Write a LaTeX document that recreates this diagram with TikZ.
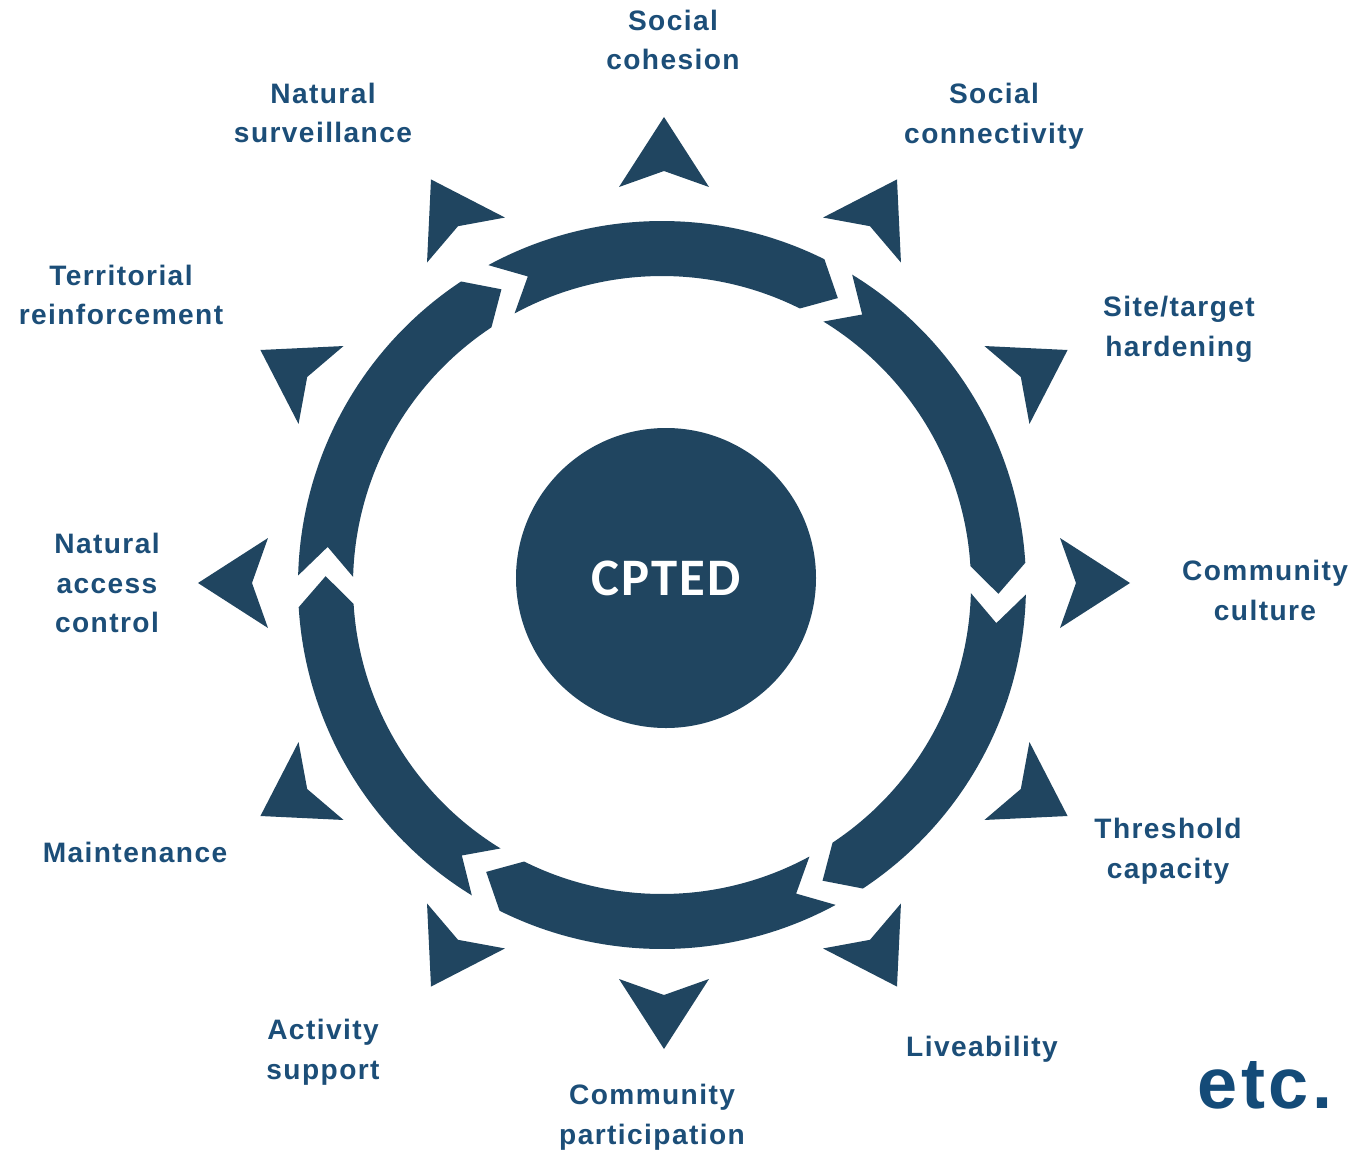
\documentclass[tikz,border=0pt]{standalone}
\usepackage{fontspec}
\newfontfamily\lblfont[LetterSpace=5]{Liberation Sans}
\newfontfamily\hubfont[LetterSpace=4]{Carlito}
\begin{document}
\begin{tikzpicture}[x=0.2mm, y=0.2mm]
    \definecolor{Ringcolor}{RGB}{32, 69, 96}
    \definecolor{Textcolor}{RGB}{28, 78, 120}
    \definecolor{Etccolor}{RGB}{20, 75, 120}
    \tikzset{lbl/.style={align=center, text=Textcolor, font=\lblfont\bfseries\fontsize{16}{22.7}\selectfont}}
    \useasboundingbox (-662,-565) rectangle (691,585);
    \def\ringout{364}
    \def\ringin{309}
    \def\ringmid{336.5}
    \def\tipradius{431}
    % ring of six curved arrows, clockwise
    \foreach \s in {118.5, 58.5, -1.5, -61.5, -121.5, 178.5} {
        \fill[Ringcolor] (\s:\ringout) arc[start angle=\s, end angle=\s-55, radius=\ringout]
            -- ({\s-60}:\ringmid) -- ({\s-55}:\ringin)
            arc[start angle=\s-55, end angle=\s, radius=\ringin]
            -- ({\s-5}:\ringmid) -- cycle;
    }
    % outward arrow heads
    \foreach \a in {0, 30, ..., 330} {
        \fill[Ringcolor, shift={(2,2)}, shift={(\a:\tipradius)}, rotate=\a] (35,0) -- (-35,45) -- (-19,0) -- (-35,-45) -- cycle;
    }
    \node[circle, fill=Ringcolor, minimum size=6cm, text=white, font=\hubfont\bfseries\fontsize{30}{32}\selectfont] (hub) at (4, 7) {CPTED};
    \node[lbl] (cohesion) at (11, 545) {Social\\cohesion};
    \node[lbl] (connectivity) at (332, 469) {Social\\connectivity};
    \node[lbl] (hardening) at (517, 256) {Site/target\\hardening};
    \node[lbl] (culture) at (603, -5) {Community\\culture};
    \node[lbl] (threshold) at (506, -266) {Threshold\\capacity};
    \node[lbl] (liveability) at (320, -464) {Liveability};
    \node[lbl] (participation) at (-10, -532) {Community\\participation};
    \node[lbl] (activity) at (-339, -467) {Activity\\support};
    \node[lbl] (maintenance) at (-527, -267) {Maintenance};
    \node[lbl] (access) at (-555, 2) {Natural\\access\\control};
    \node[lbl] (territorial) at (-541, 290) {Territorial\\reinforcement};
    \node[lbl] (surveillance) at (-339, 472) {Natural\\surveillance};
    \node[anchor=base, text=Etccolor, font=\lblfont\bfseries\fontsize{41}{44}\selectfont] (etc) at (603, -523) {etc.};
\end{tikzpicture}
\end{document}
